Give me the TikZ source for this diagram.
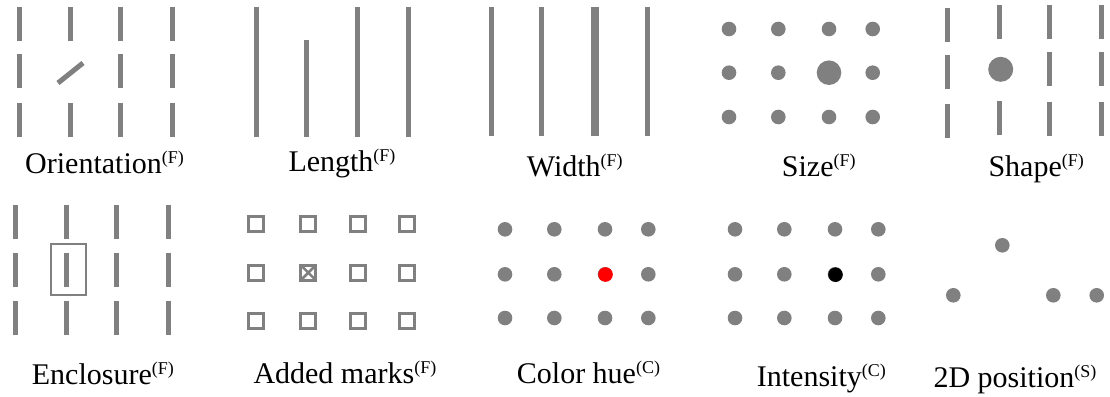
\documentclass[tikz,border=0pt]{standalone}
\usepackage{fontspec}
\setmainfont{Liberation Serif}
\definecolor{markgray}{RGB}{128,128,128}
% label text with its channel tag raised as a superscript
\newcommand\chan[2]{#1\raisebox{10pt}{\fontsize{18}{20}\selectfont(#2)}}
\begin{document}
\begin{tikzpicture}[x=1pt,y=-1pt,
  bar/.style={draw=markgray,line width=5pt},
  frame/.style={draw=markgray,line width=2pt},
  markbox/.style={draw=markgray,line width=3.3pt},
  lbl/.style={anchor=base west,inner sep=0pt,font=\fontsize{30}{36}\selectfont}]
\useasboundingbox (0,0) rectangle (1110,396);

% ---- Orientation ----
\foreach \x in {19,120,172.3}
  \foreach \t in {7.3,54,103}
    \draw[bar] (\x,\t) -- ++(0,34);
\foreach \t in {7.3,103}
  \draw[bar] (70.7,\t) -- ++(0,34);
\draw[bar] (58,83) -- (83,63);
\node[lbl] (orient) at (25,173.3) {\chan{Orientation}{F}};

% ---- Length ----
\foreach \x in {256.7,357,408}
  \draw[bar] (\x,7.3) -- (\x,136.7);
\draw[bar] (306,40) -- (306,136.7);
\node[lbl] (length) at (288.3,171.7) {\chan{Length}{F}};

% ---- Width ----
\foreach \x/\w in {491/5,541.3/5,595/8.3,647.7/5}
  \draw[bar,line width=\w pt] (\x,7.3) -- (\x,136);
\node[lbl] (width) at (526.7,176) {\chan{Width}{F}};

% ---- Size ----
\foreach \x in {729,778.3,829,872.7}
  \foreach \y in {29,72.7,117}
    \fill[markgray] (\x,\y) circle[radius=7.3pt];
\fill[markgray] (829,72.7) circle[radius=12.3pt];
\node[lbl] (size) at (781.7,176) {\chan{Size}{F}};

% ---- Shape ----
\foreach \t in {8.3,55,104}
  \draw[bar] (947.7,\t) -- ++(0,34);
\foreach \t in {5,101}
  \draw[bar] (999.3,\t) -- ++(0,34);
\foreach \x in {1049,1101}
  \foreach \t in {5,52,101.7}
    \draw[bar] (\x,\t) -- ++(0,34);
\fill[markgray] (1000.7,69.3) circle[radius=12.5pt];
\node[lbl] (shape) at (988.3,176.7) {\chan{Shape}{F}};

% ---- Enclosure ----
\foreach \x in {15,66.7,116.7,168.7}
  \foreach \t in {205.3,252.7,301.3}
    \draw[bar] (\x,\t) -- ++(0,34);
\draw[frame] (51,243.7) rectangle (85.7,295.3);
\node[lbl] (enclosure) at (31.7,384.3) {\chan{Enclosure}{F}};

% ---- Added marks ----
\foreach \x in {255.7,308.3,358.3,407.3}
  \foreach \y in {224.3,272.7,321}
    \draw[markbox] ([shift={(-7.5,-7.5)}]\x,\y) rectangle ++(15,15);
\draw[markgray,line width=2.5pt]
  (300.8,265.2) -- (315.8,280.2) (300.8,280.2) -- (315.8,265.2);
\node[lbl] (marks) at (253.3,383.3) {\chan{Added marks}{F}};

% ---- Color hue ----
\foreach \x in {505,554.3,605,648.3}
  \foreach \y in {229.3,274.3,318}
    \fill[markgray] (\x,\y) circle[radius=7.3pt];
\fill[red] (605.5,274.5) circle[radius=7.3pt];
\node[lbl] (hue) at (516.7,383.7) {\chan{Color hue}{C}};

% ---- Intensity ----
\foreach \x in {735,784.3,835,878.3}
  \foreach \y in {229.3,274.3,318}
    \fill[markgray] (\x,\y) circle[radius=7.3pt];
\fill[black] (835.5,274.7) circle[radius=7.3pt];
\node[lbl] (intensity) at (756.7,386.7) {\chan{Intensity}{C}};

% ---- 2D position ----
\foreach \x/\y in {1002.3/245.3,953.3/295.3,1053.3/295.3,1096.7/295.3}
  \fill[markgray] (\x,\y) circle[radius=7.3pt];
\node[lbl] (position) at (933.3,387.7) {\chan{2D position}{S}};
\end{tikzpicture}
\end{document}
